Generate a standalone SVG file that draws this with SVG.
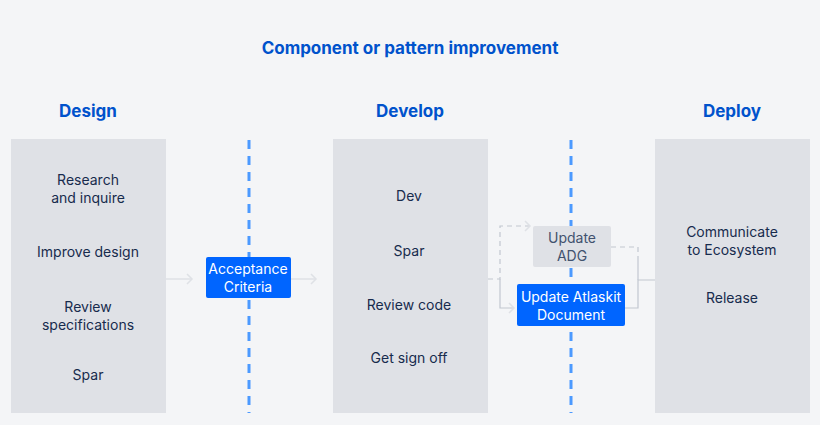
<svg xmlns="http://www.w3.org/2000/svg" width="820" height="425" viewBox="0 0 820 425">
<style>
text{font-family:Inter,"Liberation Sans",sans-serif;}
.h{fill:#0052cc;font-size:17px;font-weight:bold;text-anchor:middle}
.t{fill:#172b4d;font-size:14px;text-anchor:middle}
.w{fill:#fff;font-size:14px;text-anchor:middle}
.g{fill:#42526e;font-size:14px;text-anchor:middle}
.panel{fill:#dfe1e6}
.dash{stroke:#4c9aff;stroke-width:3;stroke-dasharray:9,7}
.ln{stroke:#c1c7d0;stroke-width:1.2;fill:none}
.lt{stroke:#dfe1e6;stroke-width:1.5;fill:none}
.ar{stroke:#8993a4;stroke-width:1.2;fill:none}
</style>
<defs>
<marker id="chev" markerWidth="10" markerHeight="10" refX="8" refY="5" orient="auto" markerUnits="userSpaceOnUse"><path d="M3,1 L8,5 L3,9" fill="none" stroke="#8993a4" stroke-width="1.2"/></marker>
<marker id="chevl" markerWidth="12" markerHeight="12" refX="9" refY="6" orient="auto" markerUnits="userSpaceOnUse"><path d="M4,1 L9,6 L4,11" fill="none" stroke="#dfe1e6" stroke-width="1.5"/></marker>
</defs>
<rect width="820" height="425" fill="#f4f5f7"/>
<text class="h" x="410" y="54">Component or pattern improvement</text>
<text class="h" x="88" y="117">Design</text>
<text class="h" x="410" y="117">Develop</text>
<text class="h" x="732" y="117">Deploy</text>
<g id="connectors">
<line class="dash" x1="249" y1="140" x2="249" y2="413"/>
<line class="dash" x1="571" y1="140" x2="571" y2="413"/>
<path class="lt" d="M166,279 H192" marker-end="url(#chevl)"/>
<path class="lt" d="M291,279 H316" marker-end="url(#chevl)"/>
<path class="ln" d="M488,279 H500 V226 H530" stroke-dasharray="5,4" marker-end="url(#chevl)"/>
<path class="ln" d="M500,279 V308 H514" marker-end="url(#chevl)"/>
<path class="ln" d="M611,247 H638 V260" stroke-dasharray="5,4"/>
<path class="ln" d="M625,308 H638 V280 H664" marker-end="url(#chevl)"/>
<line class="ln" x1="638" y1="260" x2="638" y2="280"/>
<path class="ar" d="M88,218 V232" marker-end="url(#chev)"/>
<path class="ar" d="M88,270 V285" marker-end="url(#chev)"/>
<path class="ar" d="M88,343 V358" marker-end="url(#chev)"/>
<path class="ar" d="M385,251 H372 V196 H383" marker-end="url(#chev)"/>
<path class="ar" d="M434,196 H447 V251 H434" marker-end="url(#chev)"/>
<path class="ar" d="M409,271 V286" marker-end="url(#chev)"/>
<path class="ar" d="M409,325 V340" marker-end="url(#chev)"/>
<path class="ar" d="M732,267 V282" marker-end="url(#chev)"/>
</g>
<g id="design"><rect class="panel" x="11" y="139" width="155" height="274"/>
<text class="t" x="88" y="185">Research</text><text class="t" x="88" y="203">and inquire</text>
<text class="t" x="88" y="257">Improve design</text>
<text class="t" x="88" y="312">Review</text><text class="t" x="88" y="330">specifications</text>
<text class="t" x="88" y="380">Spar</text></g>
<g id="develop"><rect class="panel" x="333" y="139" width="155" height="274"/>
<text class="t" x="409" y="201">Dev</text>
<text class="t" x="409" y="256">Spar</text>
<text class="t" x="409" y="310">Review code</text>
<text class="t" x="409" y="363">Get sign off</text></g>
<g id="deploy"><rect class="panel" x="655" y="139" width="155" height="274"/>
<text class="t" x="732" y="237">Communicate</text><text class="t" x="732" y="255">to Ecosystem</text>
<text class="t" x="732" y="303">Release</text></g>
<g id="acceptance"><rect x="206" y="257" width="85" height="41" rx="2" fill="#0065ff"/>
<text class="w" x="248" y="274">Acceptance</text><text class="w" x="248" y="292">Criteria</text></g>
<g id="adg"><rect x="533" y="226" width="78" height="41" rx="2" fill="#dfe1e6"/>
<text class="g" x="572" y="243">Update</text><text class="g" x="572" y="261">ADG</text></g>
<g id="atlaskit"><rect x="517" y="284" width="108" height="42" rx="2" fill="#0065ff"/>
<text class="w" x="571" y="302">Update Atlaskit</text><text class="w" x="571" y="320">Document</text></g>
</svg>
